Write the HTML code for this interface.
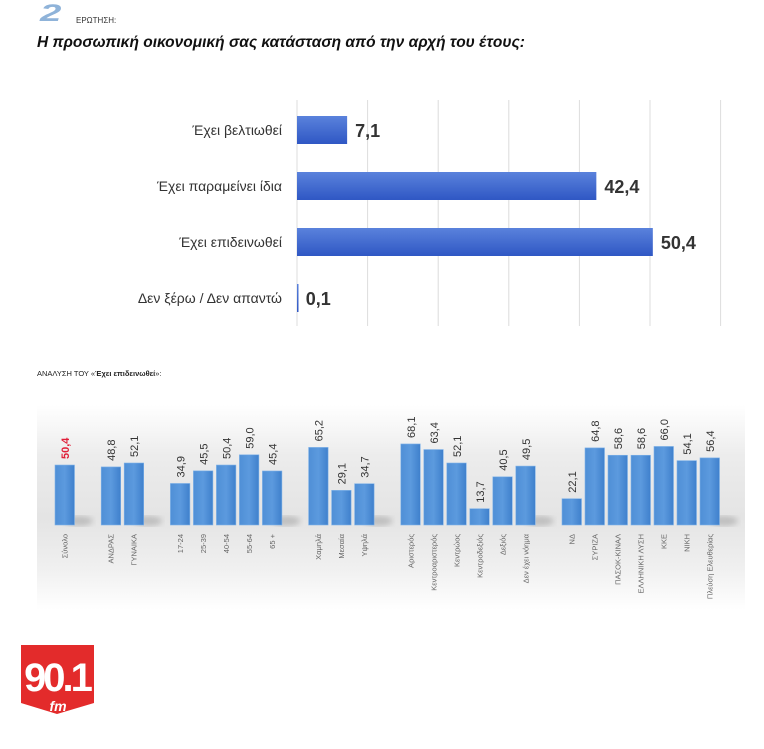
<!DOCTYPE html>
<html><head><meta charset="utf-8"><style>
body{margin:0;background:#fff;width:764px;height:749px;overflow:hidden;position:relative;font-family:"Liberation Sans","Noto Sans CJK SC",sans-serif}
.abs{position:absolute}
</style></head><body>
<div class="abs" style="left:40px;top:0px;font:italic bold 24px 'Liberation Sans',sans-serif;color:#8fb3d9;transform:scaleX(1.6);transform-origin:left">2</div>
<div class="abs" style="left:76px;top:16px;font-size:8px;color:#333">ΕΡΩΤΗΣΗ:</div>
<div class="abs" style="left:37px;top:34px;font:italic bold 15.5px 'Liberation Sans',sans-serif;color:#111">Η προσωπική οικονομική σας κατάσταση από την αρχή του έτους:</div>
<svg class="abs" style="left:0;top:0" width="764" height="749" id="svg">
<defs>
<linearGradient id="bg" x1="0" y1="0" x2="0" y2="1">
<stop offset="0" stop-color="#fff"/><stop offset="0.25" stop-color="#ececec"/><stop offset="0.55" stop-color="#e4e4e4"/><stop offset="0.8" stop-color="#f0f0f0"/><stop offset="1" stop-color="#fff"/></linearGradient>
<linearGradient id="hb" x1="0" y1="0" x2="0" y2="1"><stop offset="0" stop-color="#5a82dc"/><stop offset="1" stop-color="#2f57c4"/></linearGradient>
<linearGradient id="vb" x1="0" y1="0" x2="1" y2="0"><stop offset="0" stop-color="#4f8fd6"/><stop offset="0.5" stop-color="#5c9ade"/><stop offset="1" stop-color="#3f80cc"/></linearGradient>
<filter id="blur"><feGaussianBlur stdDeviation="3"/></filter>
</defs>
<rect x="37" y="405" width="708" height="205" fill="url(#bg)"/>
<g id="top"></g><g id="bot"></g>
<text x="37" y="376" font-size="7.5" fill="#222">ΑΝΑΛΥΣΗ ΤΟΥ «<tspan font-weight="bold">Έχει επιδεινωθεί</tspan>»:</text>
<g>
<path d="M21 645 H94 V703 L57 714 L21 703 Z" fill="#e32b2b"/>
<text x="57" y="691" text-anchor="middle" font-size="40" font-weight="bold" fill="#fff" letter-spacing="-3">90.1</text>
<text x="58" y="711" text-anchor="middle" font-size="14" font-style="italic" font-weight="bold" fill="#fff">fm</text>
</g>
</svg>
<script>
const topCats=["Έχει βελτιωθεί","Έχει παραμείνει ίδια","Έχει επιδεινωθεί","Δεν ξέρω / Δεν απαντώ"];
const topVals=[7.1,42.4,50.4,0.1];
const topTicks=[0,10,20,30,40,50,60];
const botCats=["Σύνολο","ΑΝΔΡΑΣ","ΓΥΝΑΙΚΑ","17-24","25-39","40-54","55-64","65 +","Χαμηλά","Μεσαία","Υψηλά","Αριστερός","Κεντροαριστερός","Κεντρώος","Κεντροδεξιός","Δεξιός","Δεν έχει νόημα","ΝΔ","ΣΥΡΙΖΑ","ΠΑΣΟΚ-ΚΙΝΑΛ","ΕΛΛΗΝΙΚΗ ΛΥΣΗ","ΚΚΕ","ΝΙΚΗ","Πλεύση Ελευθερίας"];
const botVals=[50.4,48.8,52.1,34.9,45.5,50.4,59.0,45.4,65.2,29.1,34.7,68.1,63.4,52.1,13.7,40.5,49.5,22.1,64.8,58.6,58.6,66.0,54.1,56.4];
const botGroups=[0,1,1,2,2,2,2,2,3,3,3,4,4,4,4,4,4,5,5,5,5,5,5,5];
const NS="http://www.w3.org/2000/svg";
function mk(t,a,p){const e=document.createElementNS(NS,t);for(const k in a)e.setAttribute(k,a[k]);p.appendChild(e);return e;}
const fmt=v=>v.toFixed(1).replace('.',',');
// top chart
const gt=document.getElementById('top');
const xT=v=>297+v*7.06, yT=i=>130+i*56;
topTicks.forEach(t=>{const l=mk('line',{x1:xT(t),x2:xT(t),y1:100,y2:326,stroke:'#dcdcdc','stroke-width':1},gt);

});
topCats.forEach((c,i)=>{
 const y=yT(i);
 const lb=mk('text',{x:282,y:y+5,'text-anchor':'end','font-size':14,fill:'#333'},gt);lb.textContent=c;
 
 
 const w=Math.max(1.5,xT(topVals[i])-xT(0));
 const r=mk('rect',{x:xT(0),y:y-14,width:w,height:28,fill:'url(#hb)'},gt);
 
 
 const v=mk('text',{x:xT(topVals[i])+8,y:y+7,'font-size':18,'font-weight':'bold',fill:'#333'},gt);v.textContent=fmt(topVals[i]);
 
 
});
// bottom chart
const gb=document.getElementById('bot');
const base=525, sc=1.19;
const xB=i=>55+i*23+botGroups[i]*23.2;
const yB=v=>base-v*sc;
[0,1,2,3,4,5].forEach(g=>{const idx=botGroups.lastIndexOf(g);
 const s=mk('ellipse',{cx:xB(idx)+24,cy:base-4,rx:14,ry:5,fill:'#999',opacity:0.5,filter:'url(#blur)'},gb);
 
 });
botCats.forEach((c,i)=>{
 const x=xB(i),y=yB(botVals[i]);
 const r=mk('rect',{x:x,y:y,width:19.5,height:base-y,fill:'url(#vb)',stroke:'#7fb2e8','stroke-width':0.6},gb);
 
 
 const v=mk('text',{transform:`translate(${x+14},${y-6}) rotate(-90)`,'font-size':11,fill:i===0?'#e0203a':'#333','font-weight':i===0?'bold':'normal'},gb);
 v.textContent=fmt(botVals[i]);
 
 
 const l=mk('text',{transform:`translate(${x+12.5},${base+9}) rotate(-90)`,'text-anchor':'end','font-size':7.5,fill:'#666'},gb);
 l.textContent=c;
 
 
});
</script>
</body></html>
